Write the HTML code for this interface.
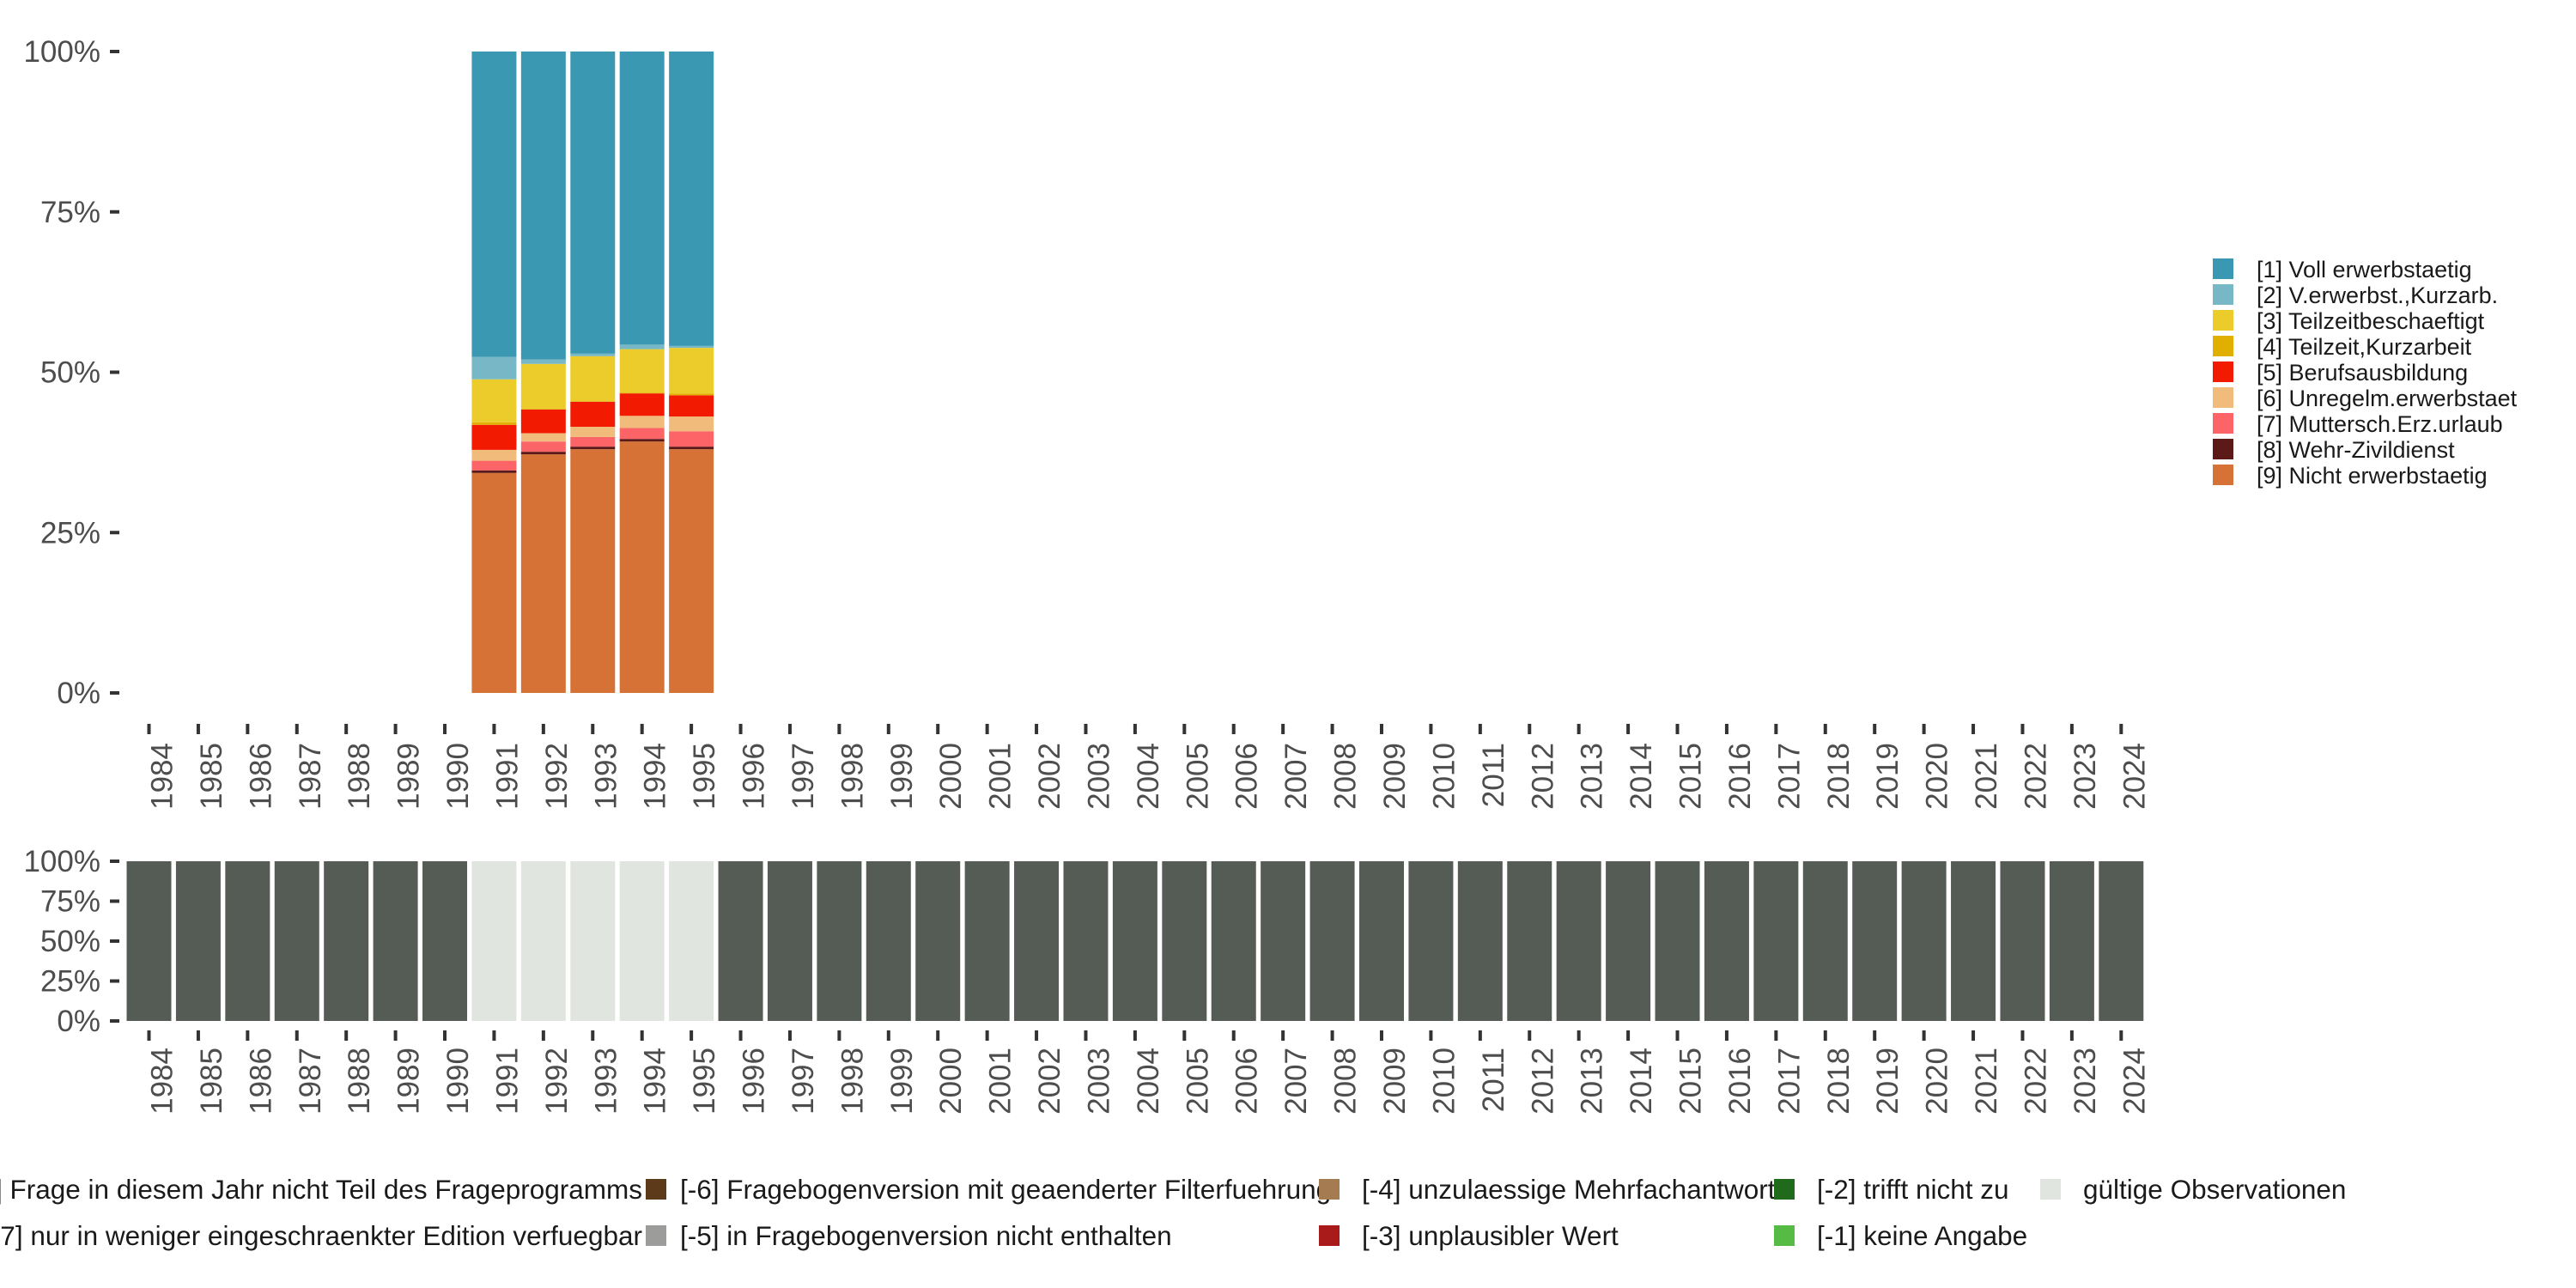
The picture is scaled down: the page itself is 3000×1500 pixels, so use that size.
<!DOCTYPE html>
<html><head><meta charset="utf-8">
<style>
html,body{margin:0;padding:0;background:#fff;}
svg{display:block;font-family:"Liberation Sans",sans-serif;}
</style></head>
<body>
<svg id="chart" width="3000" height="1500" viewBox="0 0 3000 1500" xmlns="http://www.w3.org/2000/svg">
<g id="topPanel"></g>
<g id="bottomPanel"></g>
<g id="legendTop"></g>
<g id="legendBottom"></g>
</svg>
<script>
const years = [];
for (let y = 1984; y <= 2024; y++) years.push(y);
const dataYears = [1991, 1992, 1993, 1994, 1995];
const categories = ["[1] Voll erwerbstaetig","[2] V.erwerbst.,Kurzarb.","[3] Teilzeitbeschaeftigt","[4] Teilzeit,Kurzarbeit","[5] Berufsausbildung","[6] Unregelm.erwerbstaet","[7] Muttersch.Erz.urlaub","[8] Wehr-Zivildienst","[9] Nicht erwerbstaetig"];
const colors = ["#3b98b2","#78b7c5","#ebcc2a","#e1af00","#f21a00","#f1bb7b","#fd6467","#5b1a18","#d67236"];
const s1 = [47.6, 48.0, 47.1, 45.7, 45.9];
const s2 = [3.5, 0.7, 0.4, 0.7, 0.3];
const s3 = [6.7, 7.0, 7.0, 6.8, 7.1];
const s4 = [0.4, 0.1, 0.1, 0.1, 0.3];
const s5 = [3.9, 3.7, 3.9, 3.5, 3.3];
const s6 = [1.7, 1.3, 1.6, 1.9, 2.3];
const s7 = [1.5, 1.6, 1.5, 1.7, 2.4];
const s8 = [0.4, 0.4, 0.4, 0.4, 0.4];
const s9 = [34.3, 37.2, 38.0, 39.2, 38.0];
const series = [s1, s2, s3, s4, s5, s6, s7, s8, s9];
const yTicks = [0, 25, 50, 75, 100];
const yTickLabels = ["0%", "25%", "50%", "75%", "100%"];
const validYears = [1991, 1992, 1993, 1994, 1995];
const bottomLegend = [
  ["[-8] Frage in diesem Jahr nicht Teil des Frageprogramms", "#555b55"],
  ["[-7] nur in weniger eingeschraenkter Edition verfuegbar", "#c9c9c9"],
  ["[-6] Fragebogenversion mit geaenderter Filterfuehrung", "#5c3a1a"],
  ["[-5] in Fragebogenversion nicht enthalten", "#9c9c9a"],
  ["[-4] unzulaessige Mehrfachantwort", "#a57b52"],
  ["[-3] unplausibler Wert", "#a91b1b"],
  ["[-2] trifft nicht zu", "#1f6b1b"],
  ["[-1] keine Angabe", "#55bb44"],
  ["gültige Observationen", "#e1e5e0"]
];

const NS = "http://www.w3.org/2000/svg";
function mk(tag, attrs, parent) {
  const e = document.createElementNS(NS, tag);
  for (const k in attrs) e.setAttribute(k, attrs[k]);
  parent.appendChild(e);
  return e;
}
const x0 = 173.5, step = 57.42, barW = 52;
function xs(year) { return x0 + (year - 1984) * step; }
function yTop(v) { return 807 - v / 100 * 747; }
function yBot(v) { return 1189 - v / 100 * 186; }

function yAxis(g, yf, name) {
  yTicks.forEach((t, i) => {
    const y = yf(t);
    const tk = mk("rect", {x: 128, y: y - 2, width: 11, height: 4, fill: "#333"}, g);
    
    
    const tx = mk("text", {x: 117, y: y + 12, "text-anchor": "end", "font-size": 35, fill: "#4d4d4d"}, g);
    tx.textContent = yTickLabels[i];
    
    
  });
}
function xAxis(g, tickY, labelY, name) {
  years.forEach(yr => {
    const x = xs(yr);
    const tk = mk("rect", {x: x - 2, y: tickY, width: 4, height: 12, fill: "#333"}, g);
    
    
    const tx = mk("text", {transform: `translate(${x + 27},${labelY}) rotate(-90)`, "text-anchor": "end", "font-size": 35, fill: "#4d4d4d"}, g);
    tx.textContent = yr;
    
    
  });
}

const topG = document.getElementById("topPanel");
yAxis(topG, yTop, "top");
xAxis(topG, 843, 865, "top");
dataYears.forEach((yr, j) => {
  let total = 0;
  series.forEach(s => total += s[j]);
  let cum = 0;
  for (let c = series.length - 1; c >= 0; c--) {
    const v = series[c][j] / total * 100;
    const r = mk("rect", {x: xs(yr) - barW / 2, y: yTop(cum + v), width: barW, height: yTop(cum) - yTop(cum + v), fill: colors[c]}, topG);
    
    
    cum += v;
  }
});

const botG = document.getElementById("bottomPanel");
yAxis(botG, yBot, "bottom");
xAxis(botG, 1200, 1220, "bottom");
years.forEach(yr => {
  const valid = validYears.indexOf(yr) >= 0;
  const r = mk("rect", {x: xs(yr) - barW / 2, y: yBot(100), width: barW, height: yBot(0) - yBot(100), fill: valid ? "#e1e5e0" : "#555b55"}, botG);
  
  
});

const lt = document.getElementById("legendTop");
categories.forEach((c, i) => {
  const y = 301 + i * 30;
  const sw = mk("rect", {x: 2577, y: y, width: 24, height: 24, fill: colors[i]}, lt);
  
  
  const t = mk("text", {x: 2628, y: y + 22, "font-size": 27, fill: "#1a1a1a"}, lt);
  t.textContent = c;
  
  
});

const lb = document.getElementById("legendBottom");
const colSw = [null, 752, 1536, 2066, 2376];
const colTx = [748, 792, 1586, 2116, 2426];
bottomLegend.forEach((e, i) => {
  const col = Math.floor(i / 2), row = i % 2;
  const cy = 1385 + row * 54;
  if (colSw[col] !== null) {
    const sw = mk("rect", {x: colSw[col], y: cy - 12, width: 24, height: 24, fill: e[1]}, lb);
    
    
  }
  const attrs = {x: colTx[col], y: cy + 11, "font-size": 31.5, fill: "#1a1a1a"};
  if (col === 0) attrs["text-anchor"] = "end";
  const t = mk("text", attrs, lb);
  t.textContent = e[0];
  
  
});
</script>
</body></html>
